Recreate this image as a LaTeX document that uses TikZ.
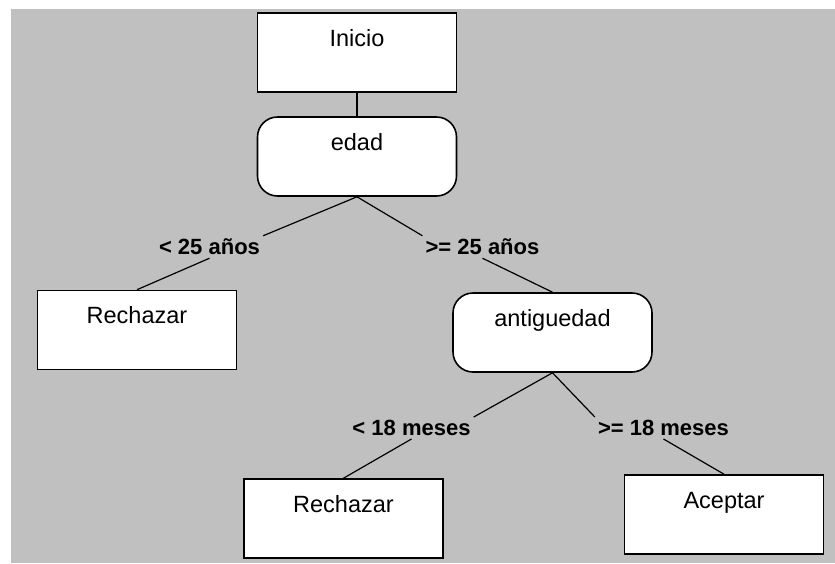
\documentclass[tikz,border=0pt]{standalone}
\usepackage{fontspec}
\setmainfont{Liberation Sans}
\usetikzlibrary{positioning}
\definecolor{fondo}{RGB}{192,192,192}

\begin{document}
\begin{tikzpicture}[x=1pt,y=-1pt,on grid,
    caja/.style={draw, line width=1.6pt, fill=white, minimum width=199pt,
      text height=33pt, text depth=46pt, inner ysep=0pt,
      font=\fontsize{23.5}{28}\selectfont},
    decision/.style={caja, rounded corners=20pt},
    rama/.style={inner sep=3pt, font=\fontsize{22}{26}\selectfont\bfseries},
    linea/.style={line width=1.2pt}]
  \useasboundingbox[fill=white] (0,0) rectangle (835,563);
  \fill[fondo] (11,9) rectangle (835,563);

  \node[caja] (inicio) at (357,52.5) {Inicio};
  \node[decision] (edad) [below=104pt of inicio] {edad};
  \node[caja] (rech1) [below left=173.5pt and 220pt of edad] {Rechazar};
  \node[decision] (antig) [below right=176pt and 195.5pt of edad] {antiguedad};
  \node[caja] (rech2) [below left=186pt and 209pt of antig] {Rechazar};
  \node[caja] (acep) [below right=182pt and 171.5pt of antig] {Aceptar};

  % ramas
  \node[rama] (l1) [below left=90.5pt and 147.5pt of edad] {< 25 años};
  \node[rama] (l2) [below right=90.5pt and 125.5pt of edad] {>= 25 años};
  \node[rama] (l3) [below left=95.5pt and 141pt of antig] {< 18 meses};
  \node[rama] (l4) [below right=95.5pt and 111pt of antig] {>= 18 meses};

  \draw[linea] (inicio) -- (edad);
  \draw[linea] (edad.south) -- (l1.north east) (l1.south) -- (rech1.north);
  \draw[linea] (edad.south) -- (l2.north west) (l2.south) -- (antig.north);
  \draw[linea] (antig.south) -- (l3.north east) (l3.south) -- (rech2.north);
  \draw[linea] (antig.south) -- (l4.north west) (l4.south) -- (acep.north);
\end{tikzpicture}
\end{document}
